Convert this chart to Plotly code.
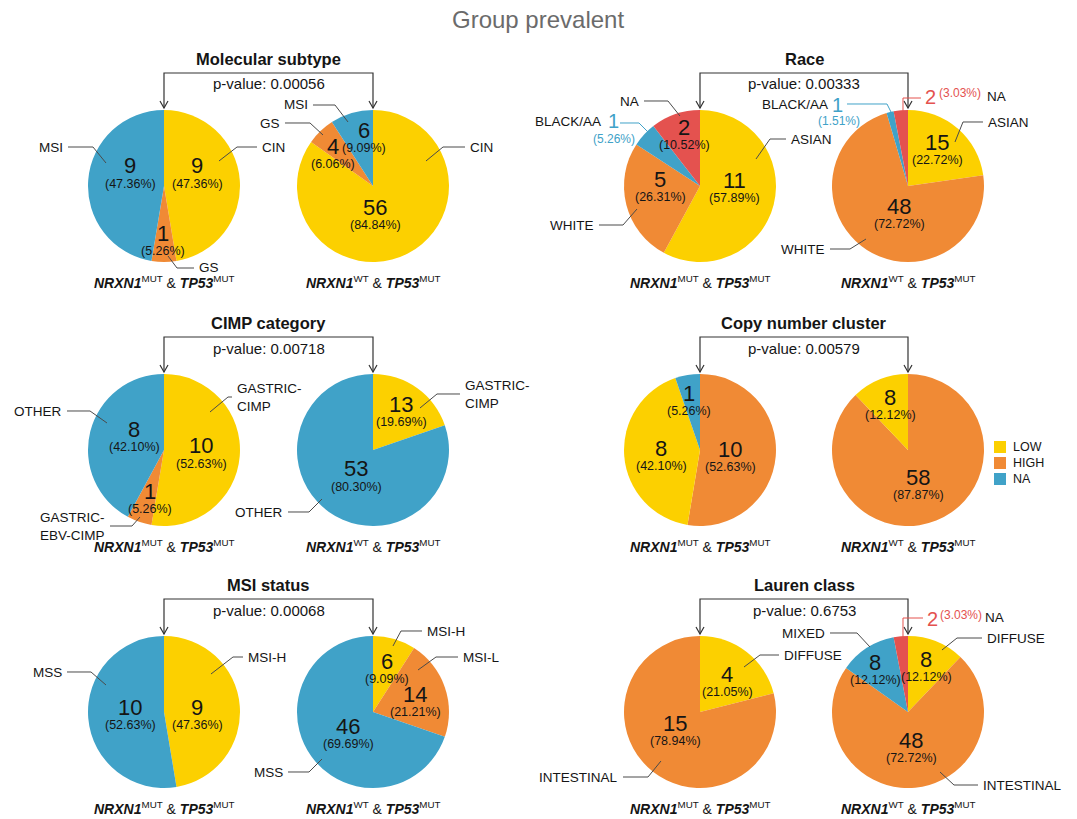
import plotly.graph_objects as go

W, H = 1077, 819
FONT = "Arial, 'Liberation Sans', sans-serif"

YEL, ORG, BLU, RED = "#FCD000", "#F08A35", "#40A2C8", "#E4524F"
INK, LINE = "#151515", "#4a4a4a"

# ---------------- data ----------------
main_title = "Group prevalent"
panel_titles = ["Molecular subtype", "Race", "CIMP category",
                "Copy number cluster", "MSI status", "Lauren class"]
p_values = ["0.00056", "0.00333", "0.00718", "0.00579", "0.00068", "0.6753"]
group_tags = [("NRXN1", "MUT", "TP53", "MUT"), ("NRXN1", "WT", "TP53", "MUT")]

mol_labels = ["CIN", "GS", "MSI"]
mol_mut = [9, 1, 9]
mol_wt = [56, 4, 6]

race_labels = ["ASIAN", "WHITE", "BLACK/AA", "NA"]
race_mut = [11, 5, 1, 2]
race_wt = [15, 48, 1, 2]

cimp_labels = ["GASTRIC-CIMP", "GASTRIC-EBV-CIMP", "OTHER"]
cimp_mut = [10, 1, 8]
cimp_wt = [13, 0, 53]

cn_labels = ["HIGH", "LOW", "NA"]
cn_mut = [10, 8, 1]
cn_wt = [58, 8, 0]

msi_labels = ["MSI-H", "MSI-L", "MSS"]
msi_mut = [9, 0, 10]
msi_wt = [6, 14, 46]

lauren_labels = ["DIFFUSE", "INTESTINAL", "MIXED", "NA"]
lauren_mut = [4, 15, 0, 0]
lauren_wt = [8, 48, 8, 2]

legend_labels = ["LOW", "HIGH", "NA"]

panels = [
    (mol_labels, mol_mut, mol_wt, [YEL, ORG, BLU]),
    (race_labels, race_mut, race_wt, [YEL, ORG, BLU, RED]),
    (cimp_labels, cimp_mut, cimp_wt, [YEL, ORG, BLU]),
    (cn_labels, cn_mut, cn_wt, [ORG, YEL, BLU]),
    (msi_labels, msi_mut, msi_wt, [YEL, ORG, BLU]),
    (lauren_labels, lauren_mut, lauren_wt, [YEL, ORG, BLU, RED]),
]
legend_colors = [YEL, ORG, BLU]

# ---------------- layout of the grid ----------------
R = 76
COL_X = [164, 373, 700, 908]
ROW_Y = [186, 450, 712]

display_name = {"GASTRIC-CIMP": "GASTRIC-<br>CIMP",
                "GASTRIC-EBV-CIMP": "GASTRIC-<br>EBV-CIMP"}

# label placement relative to each pie centre (px): inside count/percent groups
inside = {
    (0, 0): {"CIN": (33, -11), "GS": (-1, 56), "MSI": (-34, -11)},
    (0, 1): {"CIN": (2, 30), "GS": (-40, -31), "MSI": (-9, -47)},
    (1, 0): {"ASIAN": (34, 3), "WHITE": (-40, 2), "NA": (-16, -50)},
    (1, 1): {"ASIAN": (29, -35), "WHITE": (-9, 29)},
    (2, 0): {"GASTRIC-CIMP": (37, 5), "GASTRIC-EBV-CIMP": (-14, 50), "OTHER": (-30, -12)},
    (2, 1): {"GASTRIC-CIMP": (28, -37), "OTHER": (-17, 28)},
    (3, 0): {"HIGH": (30, 8), "LOW": (-39, 7), "NA": (-11, -48)},
    (3, 1): {"HIGH": (10, 36), "LOW": (-18, -44)},
    (4, 0): {"MSI-H": (33, 4), "MSS": (-34, 4)},
    (4, 1): {"MSI-H": (14, -42), "MSI-L": (42, -9), "MSS": (-25, 23)},
    (5, 0): {"DIFFUSE": (27, -29), "INTESTINAL": (-25, 20)},
    (5, 1): {"DIFFUSE": (18, -44), "INTESTINAL": (3, 37), "MIXED": (-33, -41)},
}

# leader lines: inner point, elbow, end of horizontal run
leaders = {
    (0, 0): {"CIN": [(55, -25), (73, -39), (93, -39)],
             "MSI": [(-58, -23), (-71, -39), (-96, -39)],
             "GS": [(4, 70), (13, 82), (30, 82)]},
    (0, 1): {"CIN": [(53, -25), (70, -39), (92, -39)],
             "GS": [(-50, -51), (-63, -63), (-88, -63)],
             "MSI": [(-25, -64), (-38, -81), (-60, -81)]},
    (1, 0): {"ASIAN": [(56, -27), (70, -47), (86, -47)],
             "WHITE": [(-63, 23), (-77, 39), (-101, 39)],
             "NA": [(-20, -70), (-32, -85), (-56, -85)]},
    (1, 1): {"ASIAN": [(47, -44), (55, -64), (75, -64)],
             "WHITE": [(-42, 53), (-58, 63), (-78, 63)]},
    (2, 0): {"GASTRIC-CIMP": [(46, -38), (64, -53), (68, -53)],
             "OTHER": [(-57, -27), (-74, -39), (-97, -39)],
             "GASTRIC-EBV-CIMP": [(-24, 67), (-32, 76), (-54, 76)]},
    (2, 1): {"GASTRIC-CIMP": [(47, -42), (64, -56), (87, -56)],
             "OTHER": [(-51, 49), (-64, 62), (-85, 62)]},
    (4, 0): {"MSI-H": [(47, -38), (69, -55), (79, -55)],
             "MSS": [(-58, -27), (-73, -40), (-97, -40)]},
    (4, 1): {"MSI-H": [(20, -66), (28, -81), (49, -81)],
             "MSI-L": [(45, -42), (63, -55), (85, -55)],
             "MSS": [(-51, 47), (-64, 60), (-85, 60)]},
    (5, 0): {"DIFFUSE": [(44, -45), (60, -57), (79, -57)],
             "INTESTINAL": [(-39, 49), (-52, 65), (-77, 65)]},
    (5, 1): {"DIFFUSE": [(34, -62), (49, -74), (74, -74)],
             "INTESTINAL": [(32, 60), (46, 73), (70, 73)],
             "MIXED": [(-38, -65), (-51, -79), (-78, -79)]},
}

# coloured call-outs for very thin slices
callouts = {
    (1, 0): {"BLACK/AA": dict(line=[(-49, -51), (-61, -63), (-80, -63)], color=BLU,
                              name=(-97, -65, "right"), count=(-87, -65), pct=(-86, -47, "center"))},
    (1, 1): {"BLACK/AA": dict(line=[(-16, -72), (-21, -82), (-61, -82)], color=BLU,
                              name=(-78, -82, "right"), count=(-70, -81), pct=(-69, -65, "center")),
             "NA": dict(line=[(-5, -72), (-5, -88), (13, -88)], color=RED,
                        name=(77, -90, "left"), count=(22, -89), pct=(29, -93, "left"))},
    (5, 1): {"NA": dict(line=[(-5, -69), (-5, -94), (15, -94)], color=RED,
                        name=(75, -95, "left"), count=(24, -93), pct=(30, -97, "left"))},
}


def X(px):
    return px / W


def Y(py):
    return 1 - py / H


def pct_text(v, total):
    q = (v * 10000) // total
    return f"({q // 100}.{q % 100:02d}%)"


fig = go.Figure()
ann = []
shapes = []


def text(px, py, s, size, color=INK, xanchor="center", yanchor="middle"):
    ann.append(dict(x=X(px), y=Y(py), xref="paper", yref="paper", text=s, showarrow=False,
                    xanchor=xanchor, yanchor=yanchor, align=xanchor if xanchor != "center" else "center",
                    font=dict(family=FONT, size=size, color=color)))


def path(points, color, width=1.0):
    d = "M " + " L ".join(f"{X(x):.5f},{Y(y):.5f}" for x, y in points)
    shapes.append(dict(type="path", path=d, xref="paper", yref="paper",
                       line=dict(color=color, width=width)))


text(538, 19, main_title, 24, color="#6b6b6b")

for p, (cats, mut, wt, cols) in enumerate(panels):
    row, blk = p // 2, p % 2
    cy = ROW_Y[row]
    xs = COL_X[2 * blk: 2 * blk + 2]

    # bracket with arrows and p-value
    ytop, ytip = cy - 113, cy - R - 2
    path([(xs[0], ytip), (xs[0], ytop), (xs[1], ytop), (xs[1], ytip)], "#333333", 1.2)
    for xa in xs:
        path([(xa - 4, ytip - 7), (xa, ytip), (xa + 4, ytip - 7)], "#333333", 1.2)
    text((xs[0] + xs[1]) / 2, cy - 127, f"<b>{panel_titles[p]}</b>", 16.5)
    text((xs[0] + xs[1]) / 2, cy - 102, f"p-value: {p_values[p]}", 15)

    for s, vals in enumerate([mut, wt]):
        cx = xs[s]
        total = sum(vals)
        keep = [i for i, v in enumerate(vals) if v > 0]
        fig.add_trace(go.Pie(
            values=[vals[i] for i in keep], labels=[cats[i] for i in keep],
            marker=dict(colors=[cols[i] for i in keep], line=dict(width=0)),
            sort=False, direction="clockwise", rotation=0, textinfo="none",
            hoverinfo="label+value+percent", showlegend=False,
            domain=dict(x=[X(cx - R), X(cx + R)], y=[Y(cy + R), Y(cy - R)]),
        ))

        key = (p, s)
        for cat, (dx, dy) in inside.get(key, {}).items():
            v = vals[cats.index(cat)]
            text(cx + dx, cy + dy - 9, str(v), 22)
            text(cx + dx, cy + dy + 9, pct_text(v, total), 12.5)

        for cat, pts in leaders.get(key, {}).items():
            pts_abs = [(cx + a, cy + b) for a, b in pts]
            path(pts_abs, LINE, 1)
            ex, ey = pts_abs[-1]
            right = pts[-1][0] > pts[-2][0]
            text(ex + (3 if right else -3), ey, display_name.get(cat, cat), 13.5,
                 xanchor="left" if right else "right")

        for cat, c in callouts.get(key, {}).items():
            v = vals[cats.index(cat)]
            path([(cx + a, cy + b) for a, b in c["line"]], c["color"], 1)
            nx, ny, na = c["name"]
            text(cx + nx, cy + ny, cat, 13.5, xanchor=na)
            text(cx + c["count"][0], cy + c["count"][1], str(v), 20, color=c["color"])
            qx, qy, qa = c["pct"]
            text(cx + qx, cy + qy, pct_text(v, total), 12, color=c["color"], xanchor=qa)

        g1, s1, g2, s2 = group_tags[s]
        text(cx, cy + 96,
             f"<b><i>{g1}</i></b><sup>{s1}</sup> & <b><i>{g2}</i></b><sup>{s2}</sup>", 14)

# legend for copy number cluster
for i, (lab, col) in enumerate(zip(legend_labels, legend_colors)):
    yy = ROW_Y[1] - 3 + 16 * i
    shapes.append(dict(type="rect", xref="paper", yref="paper",
                       x0=X(994), x1=X(1006), y0=Y(yy + 6), y1=Y(yy - 6),
                       fillcolor=col, line=dict(width=0)))
    text(1011, yy, lab, 12.5, xanchor="left")

fig.update_layout(
    width=W, height=H, autosize=False,
    margin=dict(l=0, r=0, t=0, b=0),
    paper_bgcolor="white", plot_bgcolor="white",
    annotations=ann, shapes=shapes,
    font=dict(family=FONT, color=INK),
)

fig.write_html("out.html")
